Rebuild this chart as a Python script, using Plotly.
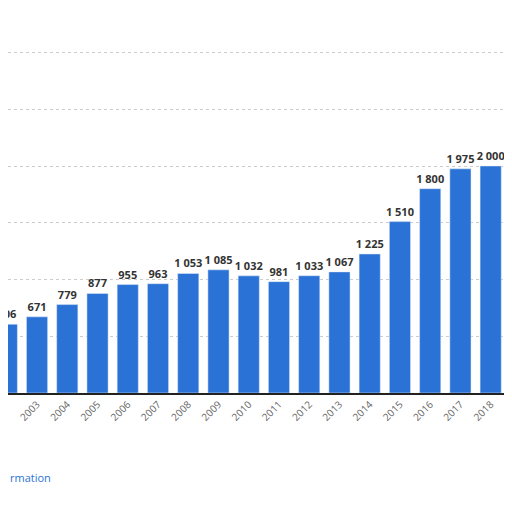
import plotly.graph_objects as go

years = list(range(2002, 2020))
values = [606, 671, 779, 877, 955, 963, 1053, 1085, 1032, 981, 1033, 1067,
          1225, 1510, 1800, 1975, 2000, 2200]
labels = [f"{v:,}".replace(",", " ") for v in values]

fig = go.Figure()
fig.add_bar(
    x=years, y=values, text=labels, textposition="outside",
    marker_color="#2a72d6", width=0.7, cliponaxis=True, constraintext="none",
    textfont=dict(family="Open Sans", size=11, color="#333333", weight="bold"),
)
fig.update_layout(
    width=512, height=512, plot_bgcolor="white", paper_bgcolor="white",
    margin=dict(l=0, r=0, t=0, b=127), showlegend=False,
)
fig.update_xaxes(
    range=[2002.04, 2018.97], tickmode="array", tickvals=years,
    ticktext=[str(y) for y in years], tickangle=-45, automargin=False,
    tickfont=dict(family="Open Sans", size=10, color="#666666"),
    showline=True, linecolor="#222222", linewidth=1.5, showgrid=False,
)
fig.update_yaxes(
    range=[0, 3392], dtick=500, showticklabels=False, automargin=False,
    gridcolor="#cccccc", griddash="dot", zeroline=False,
)
fig.add_annotation(text="rmation", x=0, y=-0.245, xref="paper", yref="paper",
                   xanchor="left", showarrow=False,
                   font=dict(family="Open Sans", size=11, color="#2a72d6"))
fig.add_annotation(text="©", x=1.0, y=-0.18, xref="paper", yref="paper",
                   xanchor="right", showarrow=False,
                   font=dict(family="Open Sans", size=10, color="#444444"))
fig.write_html("out.html")
